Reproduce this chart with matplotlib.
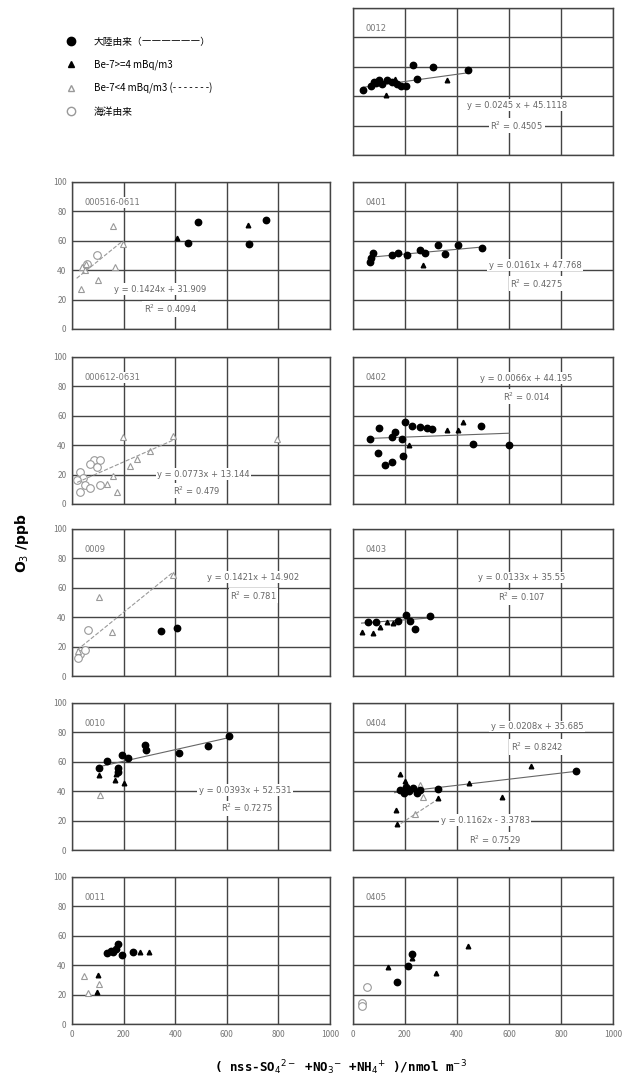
import matplotlib
matplotlib.use("Agg")
import matplotlib.pyplot as plt
from matplotlib.lines import Line2D

plt.rcParams['font.family'] = ['Noto Sans CJK JP', 'DejaVu Sans']

# ---- data (x: nmol m-3, y: ppb) ----
# 0012
p0012_land_x = [40, 70, 80, 90, 100, 110, 130, 150, 170, 185, 205, 232, 245, 309, 443]
p0012_land_y = [44, 47, 50, 49, 51, 48, 51, 50, 48, 47, 47, 61, 52, 60, 58]
p0012_hi_x = [127, 360, 160]
p0012_hi_y = [41, 51, 52]

# 000516-0611
p0516_land_x = [487, 751, 451, 687]
p0516_land_y = [73, 74, 58.6, 58]
p0516_hi_x = [406, 683]
p0516_hi_y = [62, 71]
p0516_lo_x = [160, 196, 167, 100, 34, 40, 55, 50]
p0516_lo_y = [70, 58, 42, 33, 27.5, 42, 44, 40]
p0516_sea_x = [60, 95]
p0516_sea_y = [44, 50]

# 0401
p0401_land_x = [65, 78, 70, 149, 174, 206, 258, 277, 328, 354, 405, 495]
p0401_land_y = [45.8, 52, 48, 50, 52, 50, 54, 51.5, 57, 51, 57, 55]
p0401_hi_x = [270]
p0401_hi_y = [43.5]

# 000612-0631
p0612_lo_x = [199, 393, 793, 250, 302, 225, 160, 134, 173]
p0612_lo_y = [45.4, 46, 44, 30.6, 36, 26, 19, 13.6, 8]
p0612_sea_x = [85, 110, 70, 31, 44, 18, 50, 70, 31, 95, 110]
p0612_sea_y = [30, 30, 27, 22, 18, 16, 13, 11, 8, 25, 13]

# 0402
p0402_land_x = [101, 65, 149, 162, 187, 97, 194, 149, 123, 200, 226, 258, 283, 303, 492, 460, 601]
p0402_land_y = [51.5, 44, 45.4, 48.8, 44, 34.7, 32.4, 28.4, 26.5, 56, 53, 52.5, 52, 51, 53, 40.8, 40]
p0402_hi_x = [360, 405, 424, 217]
p0402_hi_y = [50, 50, 55.6, 40]

# 0009
p0009_land_x = [345, 406]
p0009_land_y = [30.8, 32.4]
p0009_lo_x = [106, 393, 154, 25]
p0009_lo_y = [53.6, 68.5, 30, 17]
p0009_sea_x = [63, 31, 22, 50]
p0009_sea_y = [31, 15, 12, 18]

# 0403
p0403_land_x = [59, 174, 204, 219, 238, 296, 90]
p0403_land_y = [36.5, 37.7, 41.5, 37.7, 32, 41, 37]
p0403_hi_x = [33, 78, 130, 104, 155]
p0403_hi_y = [29.7, 29.5, 36.5, 33, 36]

# 0010
p0010_land_x = [106, 134, 180, 180, 193, 218, 283, 285, 415, 528, 610]
p0010_land_y = [55.6, 60.8, 55.6, 53, 64.6, 62.4, 71.4, 68, 65.8, 70.7, 77.6]
p0010_hi_x = [106, 167, 203, 170]
p0010_hi_y = [51, 47.6, 45.4, 52]
p0010_lo_x = [108]
p0010_lo_y = [37.4]

# 0404
p0404_land_x = [858, 181, 195, 205, 215, 230, 245, 258, 328]
p0404_land_y = [53.7, 41, 39, 43, 40, 42, 39, 41, 41.3]
p0404_hi_x = [683, 447, 572, 181, 165, 168, 328, 200]
p0404_hi_y = [57, 45.8, 36.3, 52, 27, 18, 35.2, 47]
p0404_lo_x = [238, 270, 258]
p0404_lo_y = [24.5, 36, 44]

# 0011
p0011_land_x = [136, 150, 160, 170, 180, 194, 238]
p0011_land_y = [48, 50, 49, 51, 54.6, 47, 48.8]
p0011_hi_x = [265, 297, 100, 96]
p0011_hi_y = [49, 49, 33.6, 22]
p0011_lo_x = [48, 61, 103]
p0011_lo_y = [32.4, 21.4, 27]

# 0405
p0405_land_x = [226, 210, 168]
p0405_land_y = [47.3, 39.7, 28.3]
p0405_hi_x = [443, 226, 136, 319]
p0405_hi_y = [53.4, 45, 39, 34.5]
p0405_sea_x = [53, 33, 33]
p0405_sea_y = [25, 14.6, 12]

# regression lines: (slope, intercept, x0, x1, style)
fit_0012 = [(0.0245, 45.1118, 40, 443, '-')]
fit_0516 = [(0.1424, 31.909, 18, 196, '--')]
fit_0401 = [(0.0161, 47.768, 65, 495, '-')]
fit_0612 = [(0.0773, 13.144, 20, 400, '--')]
fit_0402 = [(0.0066, 44.195, 65, 601, '-')]
fit_0009 = [(0.1421, 14.902, 20, 393, '--')]
fit_0403 = [(0.0133, 35.55, 33, 296, '-')]
fit_0010 = [(0.0393, 52.531, 106, 610, '-')]
fit_0404 = [(0.0208, 35.685, 160, 860, '-'), (0.1162, -3.3783, 165, 330, '--')]

# equation labels: (x, y, text)
eq_0012 = [(630, 34, "y = 0.0245 x + 45.1118"), (630, 20, "R$^2$ = 0.4505")]
eq_0516 = [(341, 27, "y = 0.1424x + 31.909"), (380, 13.6, "R$^2$ = 0.4094")]
eq_0401 = [(700, 43.5, "y = 0.0161x + 47.768"), (706, 31, "R$^2$ = 0.4275")]
eq_0612 = [(509, 20.4, "y = 0.0773x + 13.144"), (483, 9, "R$^2$ = 0.479")]
eq_0402 = [(668, 85.5, "y = 0.0066x + 44.195"), (668, 73, "R$^2$ = 0.014")]
eq_0009 = [(703, 67.3, "y = 0.1421x + 14.902"), (703, 54.8, "R$^2$ = 0.781")]
eq_0403 = [(649, 67, "y = 0.0133x + 35.55"), (649, 53.6, "R$^2$ = 0.107")]
eq_0010 = [(671, 40.8, "y = 0.0393x + 52.531"), (677, 28.4, "R$^2$ = 0.7275")]
eq_0404 = [(707, 84, "y = 0.0208x + 35.685"), (707, 70, "R$^2$ = 0.8242"),
           (508, 20.4, "y = 0.1162x - 3.3783"), (546, 7, "R$^2$ = 0.7529")]

x_ticks = [0, 200, 400, 600, 800, 1000]
y_ticks = [0, 20, 40, 60, 80, 100]

W, H = 630, 1086
fig = plt.figure(figsize=(W / 100, H / 100), dpi=100)

col_left = {0: 72, 1: 353}
col_width = {0: 258, 1: 260}
row_top = [8, 182, 357, 529, 703, 877]
row_h = 147

gray = '#666666'
light = '#999999'


def make_axes(row, col):
    l = col_left[col] / W
    b = 1 - (row_top[row] + row_h) / H
    ax = fig.add_axes([l, b, col_width[col] / W, row_h / H])
    ax.set_xlim(0, 1000)
    ax.set_ylim(0, 100)
    ax.set_xticks(x_ticks)
    ax.set_yticks(y_ticks)
    ax.grid(True, color='#444444', linewidth=1.0)
    ax.set_axisbelow(True)
    for s in ax.spines.values():
        s.set_color('#444444')
        s.set_linewidth(1.0)
    ax.tick_params(length=0, labelsize=6, labelcolor='#777777', pad=4)
    if col == 1:
        ax.set_yticklabels([])
    if row != 5:
        ax.set_xticklabels([])
    return ax


def scatter(ax, x, y, kind):
    if kind == 'land':
        ax.plot(x, y, 'o', color='black', ms=4.6, ls='none', zorder=4)
    elif kind == 'hi':
        ax.plot(x, y, '^', color='black', ms=3.3, ls='none', zorder=4)
    elif kind == 'lo':
        ax.plot(x, y, '^', mfc='white', mec=light, mew=0.8, ms=4, ls='none', zorder=3)
    elif kind == 'sea':
        ax.plot(x, y, 'o', mfc='white', mec=light, mew=0.8, ms=5.5, ls='none', zorder=3)


def fits(ax, lines):
    for a, b, x0, x1, st in lines:
        c = gray if st == '-' else light
        ax.plot([x0, x1], [a * x0 + b, a * x1 + b], st, color=c, lw=0.8, zorder=3)


def labels(ax, items):
    for x, y, t in items:
        ax.text(x, y, t, ha='center', va='center', fontsize=6, color='#666666',
                family='DejaVu Sans', zorder=5,
                bbox=dict(facecolor='white', edgecolor='none', pad=1.0))


def title(ax, t):
    ax.text(0.05, 0.86, t, transform=ax.transAxes, fontsize=6, color='#777777',
            family='DejaVu Sans', va='center', ha='left', zorder=5,
            bbox=dict(facecolor='white', edgecolor='none', pad=0.5))


# row 0
ax = make_axes(0, 1)
title(ax, "0012")
scatter(ax, p0012_land_x, p0012_land_y, 'land')
scatter(ax, p0012_hi_x, p0012_hi_y, 'hi')
fits(ax, fit_0012)
labels(ax, eq_0012)

# row 1
ax = make_axes(1, 0)
title(ax, "000516-0611")
scatter(ax, p0516_sea_x, p0516_sea_y, 'sea')
scatter(ax, p0516_lo_x, p0516_lo_y, 'lo')
scatter(ax, p0516_land_x, p0516_land_y, 'land')
scatter(ax, p0516_hi_x, p0516_hi_y, 'hi')
fits(ax, fit_0516)
labels(ax, eq_0516)

ax = make_axes(1, 1)
title(ax, "0401")
scatter(ax, p0401_land_x, p0401_land_y, 'land')
scatter(ax, p0401_hi_x, p0401_hi_y, 'hi')
fits(ax, fit_0401)
labels(ax, eq_0401)

# row 2
ax = make_axes(2, 0)
title(ax, "000612-0631")
scatter(ax, p0612_sea_x, p0612_sea_y, 'sea')
scatter(ax, p0612_lo_x, p0612_lo_y, 'lo')
fits(ax, fit_0612)
labels(ax, eq_0612)

ax = make_axes(2, 1)
title(ax, "0402")
scatter(ax, p0402_land_x, p0402_land_y, 'land')
scatter(ax, p0402_hi_x, p0402_hi_y, 'hi')
fits(ax, fit_0402)
labels(ax, eq_0402)

# row 3
ax = make_axes(3, 0)
title(ax, "0009")
scatter(ax, p0009_sea_x, p0009_sea_y, 'sea')
scatter(ax, p0009_lo_x, p0009_lo_y, 'lo')
scatter(ax, p0009_land_x, p0009_land_y, 'land')
fits(ax, fit_0009)
labels(ax, eq_0009)

ax = make_axes(3, 1)
title(ax, "0403")
scatter(ax, p0403_land_x, p0403_land_y, 'land')
scatter(ax, p0403_hi_x, p0403_hi_y, 'hi')
fits(ax, fit_0403)
labels(ax, eq_0403)

# row 4
ax = make_axes(4, 0)
title(ax, "0010")
scatter(ax, p0010_lo_x, p0010_lo_y, 'lo')
scatter(ax, p0010_land_x, p0010_land_y, 'land')
scatter(ax, p0010_hi_x, p0010_hi_y, 'hi')
fits(ax, fit_0010)
labels(ax, eq_0010)

ax = make_axes(4, 1)
title(ax, "0404")
scatter(ax, p0404_lo_x, p0404_lo_y, 'lo')
scatter(ax, p0404_land_x, p0404_land_y, 'land')
scatter(ax, p0404_hi_x, p0404_hi_y, 'hi')
fits(ax, fit_0404)
labels(ax, eq_0404)

# row 5
ax = make_axes(5, 0)
title(ax, "0011")
scatter(ax, p0011_lo_x, p0011_lo_y, 'lo')
scatter(ax, p0011_land_x, p0011_land_y, 'land')
scatter(ax, p0011_hi_x, p0011_hi_y, 'hi')

ax = make_axes(5, 1)
title(ax, "0405")
scatter(ax, p0405_sea_x, p0405_sea_y, 'sea')
scatter(ax, p0405_land_x, p0405_land_y, 'land')
scatter(ax, p0405_hi_x, p0405_hi_y, 'hi')

# legend
handles = [
    Line2D([], [], marker='o', color='black', ls='none', ms=6),
    Line2D([], [], marker='^', color='black', ls='none', ms=4),
    Line2D([], [], marker='^', mfc='white', mec=light, ls='none', ms=5),
    Line2D([], [], marker='o', mfc='white', mec=light, ls='none', ms=6),
]
names = ["大陸由来（――――――）", "Be-7>=4 mBq/m3", "Be-7<4 mBq/m3 (- - - - - - -)", "海洋由来"]
fig.legend(handles, names, loc='upper left', bbox_to_anchor=(60 / W, 1 - 33 / H),
           frameon=False, fontsize=7, labelspacing=1.3, handletextpad=1.6,
           handlelength=1.5, borderaxespad=0)

fig.text(22 / W, 0.5, "O$_3$ /ppb", rotation=90, ha='center', va='center',
         fontsize=10, fontweight='bold', family='DejaVu Sans')
fig.text(340 / W, 1 - 1068 / H,
         "( nss-SO$_4$$^{2-}$ +NO$_3$$^{-}$ +NH$_4$$^{+}$ )/nmol m$^{-3}$",
         ha='center', va='center', fontsize=9, fontweight='bold',
         family='DejaVu Sans Mono')

fig.savefig("out.png", dpi=100)
